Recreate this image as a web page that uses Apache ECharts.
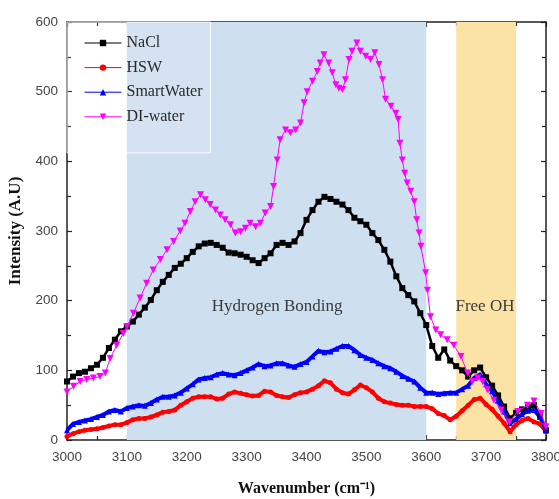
<!DOCTYPE html>
<html><head><meta charset="utf-8">
<script src="https://cdn.jsdelivr.net/npm/echarts@6/dist/echarts.min.js"></script>
<style>html,body{margin:0;padding:0;background:#fff}#c{width:559px;height:499px}</style>
</head><body><div id="c"></div>
<script>
const wavenumbers = [3000,3010,3020,3030,3040,3050,3060,3070,3080,3090,3100,3110,3120,3130,3140,3150,3160,3170,3180,3190,3200,3210,3220,3230,3240,3250,3260,3270,3280,3290,3300,3310,3320,3330,3340,3350,3360,3370,3380,3390,3400,3410,3420,3430,3440,3450,3460,3470,3480,3490,3500,3510,3520,3530,3540,3550,3560,3570,3580,3590,3600,3610,3620,3630,3640,3650,3660,3670,3680,3690,3700,3710,3720,3730,3740,3750,3760,3770,3780,3790,3800];
const nacl = [84,91,96,98,103,108,118,132,144,156,163,170,180,190,201,215,227,237,247,253,261,270,278,282,283,280,276,269,268,266,263,258,254,261,268,280,283,280,285,297,316,330,342,349,346,342,338,330,319,314,309,297,287,273,256,235,218,208,199,182,165,135,118,130,114,106,100,91,100,104,90,78,64,48,31,39,44,47,50,35,14];
const hsw = [5,9,12,14,15,16,18,20,22,22,25,29,31,31,33,36,40,41,43,50,55,60,62,62,62,59,60,66,69,67,65,63,64,70,69,64,62,61,65,68,69,73,78,85,82,73,68,66,72,79,75,69,60,55,53,51,50,50,48,48,48,45,38,35,29,34,42,50,58,60,51,44,34,24,12,22,28,31,26,23,12];
const smartWater = [14,23,26,28,30,33,36,41,43,41,46,48,50,49,53,58,62,62,64,68,74,80,87,89,90,94,96,94,93,96,100,104,109,106,107,110,110,107,105,109,112,120,128,126,127,131,135,135,129,122,118,115,110,106,103,98,92,88,84,75,68,68,66,67,68,68,73,78,89,94,80,70,56,41,24,30,37,42,43,33,14];
const diWavenumbers = [3000,3011,3022,3033,3044,3055,3064,3072,3083,3094,3100,3111,3122,3133,3144,3156,3167,3178,3189,3197,3206,3214,3223,3231,3239,3248,3256,3264,3273,3281,3290,3298,3306,3315,3323,3331,3340,3345,3351,3356,3365,3373,3382,3390,3396,3401,3410,3418,3423,3429,3437,3443,3449,3454,3460,3465,3471,3476,3484,3490,3499,3507,3514,3521,3527,3532,3541,3549,3553,3556,3560,3564,3568,3574,3580,3584,3588,3591,3599,3602,3607,3616,3624,3635,3646,3658,3669,3677,3686,3694,3702,3713,3725,3739,3753,3769,3780,3792,3800];
const diWater = [69,77,84,87,89,91,96,117,136,153,163,182,204,225,244,259,273,285,300,311,328,342,352,345,338,330,323,316,309,297,299,304,311,306,311,326,335,364,402,431,445,441,445,455,484,500,515,529,541,553,541,527,510,505,503,517,546,558,570,558,551,546,556,539,517,489,479,469,460,426,402,383,369,357,342,316,297,278,240,215,177,158,151,144,136,120,96,84,89,84,72,57,43,26,41,50,56,38,19];
const seriesNames = ['NaCl','HSW','SmartWater','DI-water'];
const bondingRange = [3100, 3600];
const freeOHRange = [3650, 3750];
const xTicks = [3000, 3800, 100];
const yTicks = [0, 600, 100];

const pairs = (xs, ys) => xs.map((x, i) => [x, ys[i]]);
const serif = '"Liberation Serif","Times New Roman",serif';
const sans = '"Liberation Sans",Arial,sans-serif';
const axisColor = '#222';
const plain = v => String(v);

const chart = echarts.init(document.getElementById('c'), null, {renderer: 'canvas'});
const baseX = {
  type: 'value', min: xTicks[0], max: xTicks[1], interval: xTicks[2],
  axisLine: {show: true, onZero: false, lineStyle: {color: axisColor, width: 1.5}},
  axisTick: {show: true, inside: true, length: 5, lineStyle: {color: axisColor, width: 1.2}},
  minorTick: {show: true, splitNumber: 2, length: 4, lineStyle: {color: axisColor, width: 1.2}},
  splitLine: {show: false}
};
const baseY = {
  type: 'value', min: yTicks[0], max: yTicks[1], interval: yTicks[2],
  axisLine: {show: true, onZero: false, lineStyle: {color: axisColor, width: 1.5}},
  axisTick: {show: true, inside: true, length: 5, lineStyle: {color: axisColor, width: 1.2}},
  minorTick: {show: true, splitNumber: 2, length: 4, lineStyle: {color: axisColor, width: 1.2}},
  splitLine: {show: false}
};
const option = {
  animation: false,
  backgroundColor: '#fff',
  grid: {left: 67, right: 13, top: 22, bottom: 59, containLabel: false, outerBoundsMode: 'none'},
  legend: {
    data: seriesNames, orient: 'vertical', left: 67, top: 22,
    padding: [11, 8, 26, 17], itemGap: 4.6, itemWidth: 37, itemHeight: 8,
    backgroundColor: 'rgba(255,255,255,0.12)', borderColor: 'rgba(255,255,255,0.85)', borderWidth: 1,
    textStyle: {fontFamily: serif, fontSize: 16, color: '#2a2a2a', lineHeight: 20},
    lineStyle: {width: 1}
  },
  xAxis: [
    Object.assign({}, baseX, {
      position: 'bottom',
      axisLabel: {show: true, margin: 10, fontFamily: sans, fontSize: 13.5, color: '#444', formatter: plain},
      name: 'Wavenumber (cm⁻¹)', nameLocation: 'middle', nameGap: 41,
      nameTextStyle: {fontFamily: serif, fontWeight: 'bold', fontSize: 16, color: '#111'}
    }),
    Object.assign({}, baseX, {position: 'top', axisLabel: {show: false}})
  ],
  yAxis: [
    Object.assign({}, baseY, {
      position: 'left',
      axisLabel: {show: true, margin: 9, fontFamily: sans, fontSize: 13.5, color: '#444', formatter: plain},
      name: 'Intensity (A.U)', nameLocation: 'middle', nameGap: 36,
      nameTextStyle: {fontFamily: serif, fontWeight: 'bold', fontSize: 17, color: '#111'}
    }),
    Object.assign({}, baseY, {position: 'right', axisLabel: {show: false}})
  ],
  series: [
    {
      name: 'regions', type: 'line', data: [], silent: true, z: 1,
      markArea: {
        silent: true,
        data: [
          [{xAxis: bondingRange[0], itemStyle: {color: '#cedff0'}}, {xAxis: bondingRange[1]}],
          [{xAxis: freeOHRange[0], itemStyle: {color: '#fbe3a6'}}, {xAxis: freeOHRange[1]}]
        ]
      },
      markPoint: {
        silent: true, symbol: 'circle', symbolSize: 0,
        label: {show: true, position: 'inside', fontFamily: serif, fontSize: 17, color: '#3a3a3a'},
        data: [
          {coord: [3351, 191], value: 'Hydrogen Bonding', label: {formatter: 'Hydrogen Bonding'}},
          {coord: [3698, 191], value: 'Free OH', label: {formatter: 'Free OH'}}
        ]
      }
    },
    {
      name: seriesNames[0], type: 'line', data: pairs(wavenumbers, nacl), z: 3,
      symbol: 'rect', symbolSize: 6, showAllSymbol: true, color: '#000',
      lineStyle: {width: 2.5, color: '#000'}
    },
    {
      name: seriesNames[1], type: 'line', data: pairs(wavenumbers, hsw), z: 3,
      symbol: 'circle', symbolSize: 5, showAllSymbol: true, color: '#ff0000',
      lineStyle: {width: 4, color: '#ff0000'}
    },
    {
      name: seriesNames[2], type: 'line', data: pairs(wavenumbers, smartWater), z: 3,
      symbol: 'triangle', symbolSize: 6, showAllSymbol: true, color: '#0000ff',
      lineStyle: {width: 4, color: '#0000ff'}
    },
    {
      name: seriesNames[3], type: 'line', data: pairs(diWavenumbers, diWater), z: 4,
      symbol: 'triangle', symbolRotate: 180, symbolSize: 7, showAllSymbol: true, color: '#ff00ff',
      lineStyle: {width: 1, color: '#ff00ff'}
    }
  ]
};
chart.setOption(option);
</script>
</body></html>
